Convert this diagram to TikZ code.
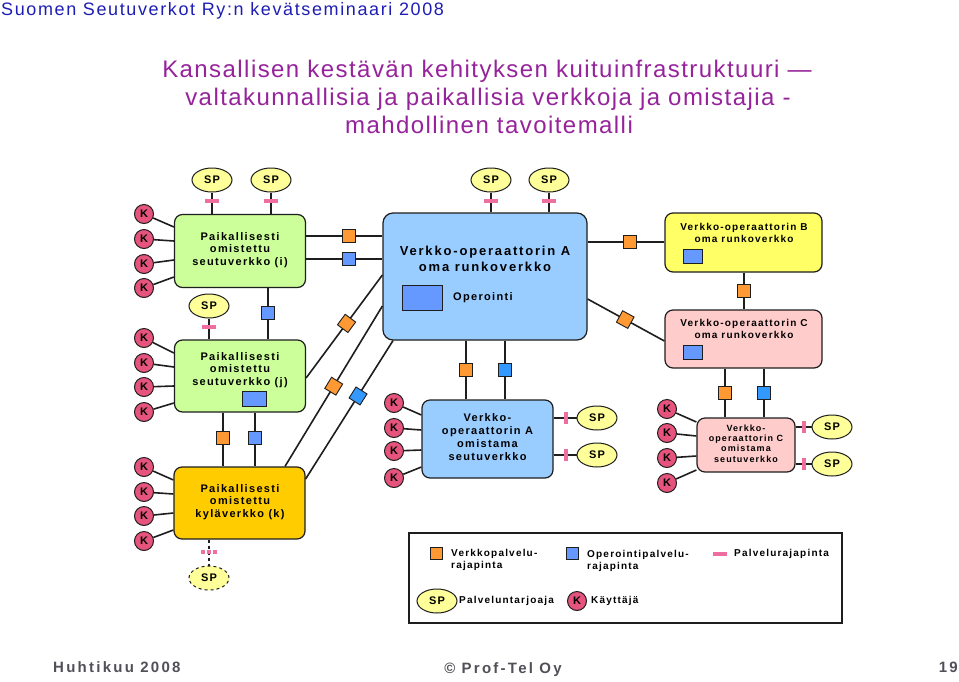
\documentclass[tikz,border=0pt]{standalone}
\usepackage{fontspec}
\setmainfont{Liberation Sans}
\newfontfamily\bx[LetterSpace=12]{Liberation Sans}
\newfontfamily\bxa[LetterSpace=14]{Liberation Sans}
\newfontfamily\ttl[LetterSpace=6]{Liberation Sans}
\newfontfamily\hdr[LetterSpace=9]{Liberation Sans}
\newfontfamily\ftr[LetterSpace=15]{Liberation Sans}
\usetikzlibrary{shapes.geometric}
\definecolor{hdrblue}{RGB}{30,30,180}
\definecolor{ttlpurple}{RGB}{150,35,155}
\definecolor{grn}{RGB}{204,255,153}
\definecolor{gold}{RGB}{255,204,0}
\definecolor{lblue}{RGB}{153,204,255}
\definecolor{yel}{RGB}{255,255,102}
\definecolor{pnk}{RGB}{255,204,204}
\definecolor{kpink}{RGB}{230,84,125}
\definecolor{spyellow}{RGB}{255,255,153}
\definecolor{sqorange}{RGB}{255,153,51}
\definecolor{sqblue}{RGB}{102,153,255}
\definecolor{sqblue2}{RGB}{51,153,255}
\definecolor{barpink}{RGB}{238,110,160}
\definecolor{ftrgray}{RGB}{80,80,88}
\definecolor{edge}{RGB}{30,30,30}
\tikzset{
  line/.style={line width=1.6pt, edge},
  bbox/.style={draw=edge, line width=1.2pt, rounded corners=8pt, inner sep=0pt},
  btxt/.style={align=center, inner sep=0pt, font=\bx\bfseries\fontsize{11}{12.8}\selectfont},
  kn/.style={circle, draw=edge, line width=1pt, fill=kpink, minimum size=19pt, inner sep=0pt, font=\bx\bfseries\fontsize{11}{11}\selectfont},
  spn/.style={ellipse, draw=edge, line width=1pt, fill=spyellow, minimum width=40pt, minimum height=24pt, inner sep=0pt, font=\bx\bfseries\fontsize{11}{11}\selectfont},
  osq/.style={rectangle, draw=edge, line width=0.9pt, fill=sqorange, minimum size=13pt, inner sep=0pt},
  bsq/.style={rectangle, draw=edge, line width=0.9pt, fill=sqblue, minimum size=13pt, inner sep=0pt},
  bsqb/.style={rectangle, draw=edge, line width=0.9pt, fill=sqblue2, minimum size=13pt, inner sep=0pt},
  oprect/.style={rectangle, draw=edge, line width=1pt, fill=sqblue, inner sep=0pt},
  pbar/.style={rectangle, fill=barpink, minimum width=14pt, minimum height=4pt, inner sep=0pt},
  pvbar/.style={rectangle, fill=barpink, minimum width=4pt, minimum height=12pt, inner sep=0pt},
  legtxt/.style={anchor=west, align=left, inner sep=0pt, font=\bx\bfseries\fontsize{10}{11.5}\selectfont},
  ftxt/.style={inner sep=0pt, text=ftrgray, font=\ftr\bfseries\fontsize{15}{17}\selectfont},
}
\begin{document}
\begin{tikzpicture}[x=1pt,y=-1pt]
\useasboundingbox[fill=white] (0,0) rectangle (959,681);

% header and title
\node[anchor=base west, inner sep=0pt, text=hdrblue, font=\hdr\fontsize{18}{20}\selectfont] (hdr) at (1,15) {Suomen Seutuverkot Ry:n kevätseminaari 2008};
\node[anchor=base, inner sep=0pt, text=ttlpurple, font=\ttl\fontsize{24}{28}\selectfont] (t1) at (487,77) {Kansallisen kestävän kehityksen kuituinfrastruktuuri —};
\node[anchor=base, inner sep=0pt, text=ttlpurple, font=\ttl\fontsize{24}{28}\selectfont] (t2) at (488,105) {valtakunnallisia ja paikallisia verkkoja ja omistajia -};
\node[anchor=base, inner sep=0pt, text=ttlpurple, font=\ttl\fontsize{24}{28}\selectfont] (t3) at (489,133) {mahdollinen tavoitemalli};

% boxes
\node[bbox, fill=grn, minimum width=131pt, minimum height=73pt] (bi) at (240,251) {};
\node[bbox, fill=grn, minimum width=131pt, minimum height=72pt] (bj) at (240,376) {};
\node[bbox, fill=gold, minimum width=131pt, minimum height=72pt] (bk) at (239.5,503) {};
\node[bbox, fill=lblue, minimum width=204pt, minimum height=127pt, rounded corners=10pt] (ba) at (485,276.5) {};
\node[bbox, fill=lblue, minimum width=131pt, minimum height=78pt] (bas) at (487.5,439) {};
\node[bbox, fill=yel, minimum width=157pt, minimum height=59pt] (bb) at (743.5,242.5) {};
\node[bbox, fill=pnk, minimum width=157pt, minimum height=58pt] (bc) at (743.5,339) {};
\node[bbox, fill=pnk, minimum width=98pt, minimum height=54pt] (bcs) at (746,445) {};

% box texts
\node[btxt] (ti) at (240,250) {Paikallisesti\\omistettu\\seutuverkko (i)};
\node[btxt] (tj) at (240,370) {Paikallisesti\\omistettu\\seutuverkko (j)};
\node[btxt] (tk) at (240,502) {Paikallisesti\\omistettu\\kyläverkko (k)};
\node[btxt, font=\bxa\bfseries\fontsize{13}{16}\selectfont] (ta) at (485,259) {Verkko-operaattorin A\\oma runkoverkko};
\node[btxt, anchor=west] (top) at (453,298) {Operointi};
\node[btxt] (tas) at (487.5,437) {Verkko-\\operaattorin A\\omistama\\seutuverkko};
\node[btxt, font=\bx\bfseries\fontsize{10}{12}\selectfont] (tb) at (744,233) {Verkko-operaattorin B\\oma runkoverkko};
\node[btxt, font=\bx\bfseries\fontsize{10}{12}\selectfont] (tc) at (744,329) {Verkko-operaattorin C\\oma runkoverkko};
\node[btxt, font=\bx\bfseries\fontsize{9}{10.4}\selectfont] (tcs) at (746,443.5) {Verkko-\\operaattorin C\\omistama\\seutuverkko};

% operation rectangles inside boxes
\node[oprect, minimum width=24pt, minimum height=15pt] (opj) at (254,399) {};
\node[oprect, minimum width=40pt, minimum height=25pt] (opa) at (422,298) {};
\node[oprect, minimum width=19pt, minimum height=14pt] (opb) at (693,256) {};
\node[oprect, minimum width=19pt, minimum height=14pt] (opc) at (693,352) {};

% users K
\foreach \ky/\ty [count=\n] in {214/227, 239/241, 264/260, 288/277} {
  \node[kn] (ki\n) at (144,\ky) {K};
  \draw[line] (ki\n) -- (bi.west |- 0,\ty);
}
\foreach \ky/\ty [count=\n] in {338/353, 363/367, 387/386, 412/403} {
  \node[kn] (kj\n) at (144,\ky) {K};
  \draw[line] (kj\n) -- (bj.west |- 0,\ty);
}
\foreach \ky/\ty [count=\n] in {467/480, 492/494, 516/513, 541/530} {
  \node[kn] (kk\n) at (144,\ky) {K};
  \draw[line] (kk\n) -- (bk.west |- 0,\ty);
}
\foreach \ky/\ty [count=\n] in {403/415, 428/430, 451/450, 478/467} {
  \node[kn] (kas\n) at (394,\ky) {K};
  \draw[line] (kas\n) -- (bas.west |- 0,\ty);
}
\foreach \ky/\ty [count=\n] in {409/422, 433/436, 458/456, 483/470} {
  \node[kn] (kcs\n) at (667,\ky) {K};
  \draw[line] (kcs\n) -- (bcs.west |- 0,\ty);
}

% service providers SP
\node[spn] (spi1) at (212,180) {SP};
\node[spn] (spi2) at (271,180) {SP};
\node[spn] (spj) at (209,306) {SP};
\node[spn] (spa1) at (491,180) {SP};
\node[spn] (spa2) at (549,180) {SP};
\node[spn] (spas1) at (597,418) {SP};
\node[spn] (spas2) at (597,455) {SP};
\node[spn] (spcs1) at (832,427) {SP};
\node[spn] (spcs2) at (832,464) {SP};
\node[spn, dashed] (spk) at (209,578) {SP};

\draw[line] (spi1) -- (spi1 |- bi.north);
\draw[line] (spi2) -- (spi2 |- bi.north);
\draw[line] (spj) -- (spj |- bj.north);
\draw[line] (spa1) -- (spa1 |- ba.north);
\draw[line] (spa2) -- (spa2 |- ba.north);
\draw[line] (bas.east |- spas1) -- (spas1);
\draw[line] (bas.east |- spas2) -- (spas2);
\draw[line] (bcs.east |- spcs1) -- (spcs1);
\draw[line] (bcs.east |- spcs2) -- (spcs2);
\draw[line, dashed] (bk.south -| spk) -- (spk);

\node[pbar] (pi1) at (212,201) {};
\node[pbar] (pi2) at (271,201) {};
\node[pbar] (pj) at (209,327) {};
\node[pbar] (pa1) at (491,201) {};
\node[pbar] (pa2) at (549,201) {};
\node[pvbar] (pas1) at (566,418) {};
\node[pvbar] (pas2) at (566,455) {};
\node[pvbar] (pcs1) at (804,427) {};
\node[pvbar] (pcs2) at (804,464) {};
\draw[barpink, line width=4pt, dash pattern=on 4pt off 2pt] (201,552) -- (217,552);

% interconnections
\draw[line] (bi.south -| 268,0) -- (bj.north -| 268,0);
\node[bsq] (qij) at (268,313) {};
\draw[line] (bi.east |- 0,236) -- (ba.west |- 0,236);
\node[osq] (qia1) at (349,236) {};
\draw[line] (bi.east |- 0,259) -- (ba.west |- 0,259);
\node[bsq] (qia2) at (349,259) {};
\draw[line] (bj.south -| 223,0) -- (bk.north -| 223,0);
\node[osq] (qjk1) at (223,438) {};
\draw[line] (bj.south -| 255,0) -- (bk.north -| 255,0);
\node[bsq] (qjk2) at (255,438) {};

\draw[line] (bj.east |- 0,378) -- (ba.west |- 0,275) node[osq, sloped, pos=0.53] (d1) {};
\draw[line] (bk.north -| 285,0) -- (ba.west |- 0,306) node[osq, sloped, pos=0.5] (d2) {};
\draw[line] (bk.east |- 0,479) -- (ba.south -| 393,0) node[bsqb, sloped, pos=0.6] (d3) {};

\draw[line] (ba.south -| 466,0) -- (bas.north -| 466,0);
\node[osq] (qaa1) at (466,370) {};
\draw[line] (ba.south -| 505,0) -- (bas.north -| 505,0);
\node[bsqb] (qaa2) at (505,370) {};

\draw[line] (ba.east |- 0,242) -- (bb.west |- 0,242);
\node[osq] (qab) at (630,242) {};
\draw[line] (ba.east |- 0,299) -- (bc.west |- 0,341) node[osq, sloped, pos=0.49] (d4) {};
\draw[line] (bb.south -| 744,0) -- (bc.north -| 744,0);
\node[osq] (qbc) at (744,291) {};
\draw[line] (bc.south -| 725,0) -- (bcs.north -| 725,0);
\node[osq] (qcc1) at (725,393) {};
\draw[line] (bc.south -| 764,0) -- (bcs.north -| 764,0);
\node[bsqb] (qcc2) at (764,393) {};

% legend
\node[draw=edge, line width=1.2pt, minimum width=433pt, minimum height=90pt, inner sep=0pt] (leg) at (625.5,578) {};
\node[osq, minimum size=12pt] (lo) at (436,553) {};
\node[legtxt] (lot) at (451,560) {Verkkopalvelu-\\rajapinta};
\node[bsq, minimum size=12pt] (lb) at (572,553) {};
\node[legtxt] (lbt) at (587,561) {Operointipalvelu-\\rajapinta};
\node[pbar] (lp) at (720,554) {};
\node[legtxt] (lpt) at (734,554) {Palvelurajapinta};
\node[spn] (lsp) at (437,601) {SP};
\node[legtxt] (lspt) at (459,601) {Palveluntarjoaja};
\node[kn] (lk) at (577,601) {K};
\node[legtxt] (lkt) at (591,601) {Käyttäjä};

% footer
\node[ftxt, anchor=base west] (f1) at (53,672) {Huhtikuu 2008};
\node[ftxt, anchor=base] (f2) at (503,673) {© Prof-Tel Oy};
\node[ftxt, anchor=base east] (f3) at (958,672) {19};
\end{tikzpicture}
\end{document}
